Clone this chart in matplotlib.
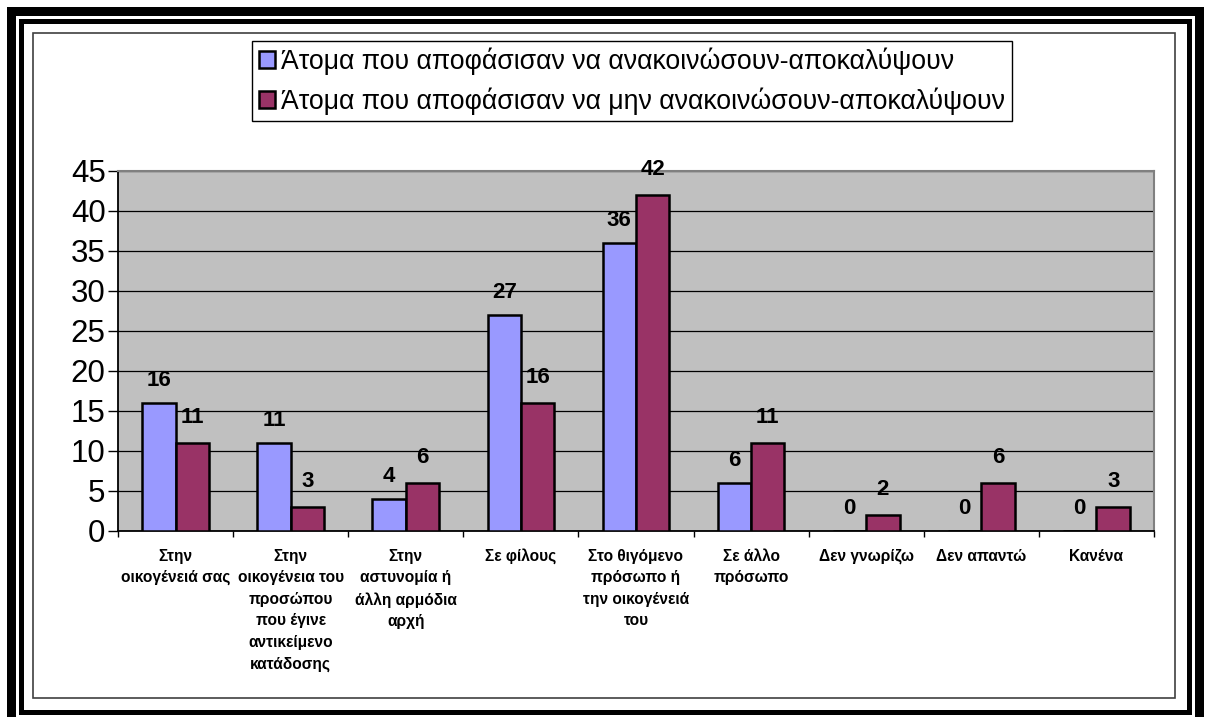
import matplotlib
matplotlib.use("Agg")
import matplotlib.pyplot as plt
from matplotlib.patches import Rectangle
import numpy as np

plt.rcParams['font.family'] = ['Liberation Sans', 'DejaVu Sans']

# data
categories = ["Στην\nοικογένειά σας",
              "Στην\nοικογένεια του\nπροσώπου\nπου έγινε\nαντικείμενο\nκατάδοσης",
              "Στην\nαστυνομία ή\nάλλη αρμόδια\nαρχή",
              "Σε φίλους",
              "Στο θιγόμενο\nπρόσωπο ή\nτην οικογένειά\nτου",
              "Σε άλλο\nπρόσωπο",
              "Δεν γνωρίζω",
              "Δεν απαντώ",
              "Κανένα"]
told = [16, 11, 4, 27, 36, 6, 0, 0, 0]
not_told = [11, 3, 6, 16, 42, 11, 2, 6, 3]
series_names = ["Άτομα που αποφάσισαν να ανακοινώσουν-αποκαλύψουν",
                "Άτομα που αποφάσισαν να μην ανακοινώσουν-αποκαλύψουν"]
yticks = [0, 5, 10, 15, 20, 25, 30, 35, 40, 45]

W, H = 1206, 717
fig = plt.figure(figsize=(W / 100, H / 100), dpi=100)
fig.patch.set_facecolor("white")

def px_rect(x0, y0, x1, y1, **kw):
    # rectangle in pixel coords (y from top)
    r = Rectangle((x0 / W, 1 - y1 / H), (x1 - x0) / W, (y1 - y0) / H,
                  transform=fig.transFigure, **kw)
    fig.patches.append(r)

# double frame
px_rect(10.5, 10.5, 1198.5, 740, fill=False, edgecolor="black", linewidth=9 * 0.72)
px_rect(20.5, 20.5, 1188.5, 711.5, fill=False, edgecolor="black", linewidth=5 * 0.72)
px_rect(32.5, 32.5, 1174.5, 697.5, fill=False, edgecolor="#404040", linewidth=1.2)

# plot area
ax = fig.add_axes([118 / W, 1 - 531 / H, (1154 - 118) / W, (531 - 171) / H])
ax.set_facecolor("#C0C0C0")

x = np.arange(len(categories))
bw = 0.29
b1 = ax.bar(x - bw / 2, told, bw, color="#9999FF", edgecolor="black", linewidth=1.8,
            label=series_names[0], zorder=3)
b2 = ax.bar(x + bw / 2, not_told, bw, color="#993366", edgecolor="black", linewidth=1.8,
            label=series_names[1], zorder=3)

for xi, v in zip(x - bw / 2, told):
    ax.annotate(str(v), (xi, v), xytext=(0, 12.5), textcoords="offset points",
                ha="center", va="baseline", fontsize=16, fontweight="bold", zorder=4)
for xi, v in zip(x + bw / 2, not_told):
    ax.annotate(str(v), (xi, v), xytext=(0, 14.5), textcoords="offset points",
                ha="center", va="baseline", fontsize=16, fontweight="bold",
                zorder=4, annotation_clip=False)

ax.set_xlim(-0.5, len(categories) - 0.5)
ax.set_ylim(0, 45)
ax.set_yticks(yticks)
ax.tick_params(axis="y", labelsize=22.5, length=7, width=1, direction="out", pad=2)
ax.yaxis.grid(True, color="black", linewidth=0.9)
ax.set_axisbelow(True)

# category ticks between groups, labels at centres
ax.set_xticks(np.arange(len(categories) + 1) - 0.5)
ax.set_xticklabels([])
ax.tick_params(axis="x", length=4, width=1, direction="out")
for xi, lab in zip(x, categories):
    ax.text(xi, -2.2, lab, ha="center", va="top", fontsize=11.2, fontweight="bold",
            linespacing=1.55)

for s in ["left", "bottom"]:
    ax.spines[s].set_color("black")
    ax.spines[s].set_linewidth(1.3)
for s in ["top", "right"]:
    ax.spines[s].set_color("#808080")
    ax.spines[s].set_linewidth(1.5)

leg = fig.legend(handles=[b1, b2], loc="upper left",
                 bbox_to_anchor=(252 / W, 1 - 41 / H), fontsize=19.2,
                 frameon=True, fancybox=False, edgecolor="black", framealpha=1,
                 handlelength=0.6, handleheight=0.6, handletextpad=0.25,
                 borderpad=0.25, labelspacing=0.45, borderaxespad=0)
leg.get_frame().set_linewidth(1)

fig.savefig("out.png", dpi=100)
